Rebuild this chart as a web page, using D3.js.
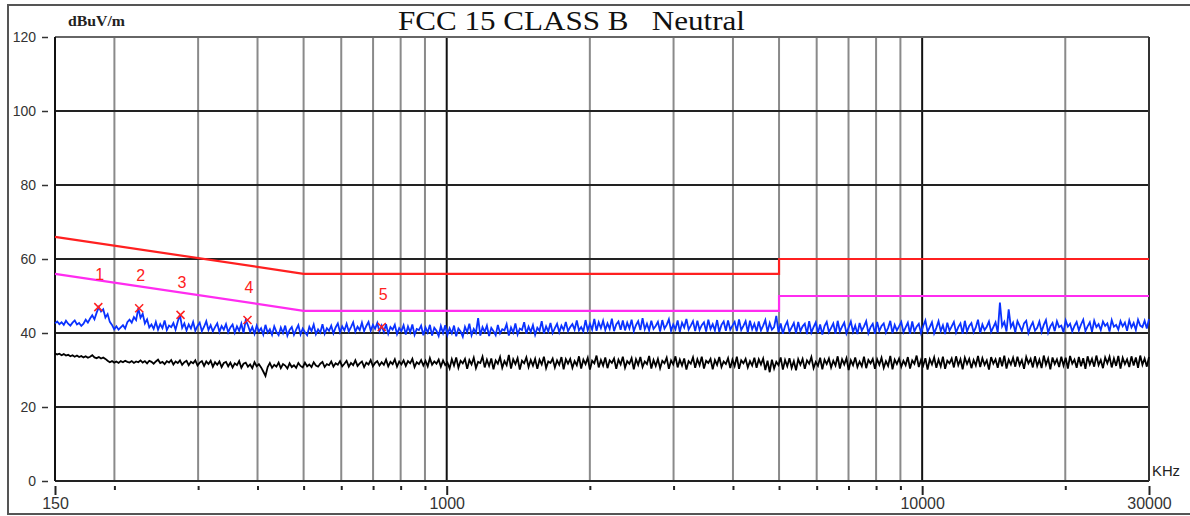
<!DOCTYPE html>
<html>
<head>
<meta charset="utf-8">
<script src="https://cdn.jsdelivr.net/npm/d3@7"></script>
<style>
  html, body { margin: 0; padding: 0; background: #fff; }
  svg { display: block; }
</style>
</head>
<body>
<svg id="chart" width="1190" height="516"></svg>
<script>
// ---------------- DATA ----------------
const chartTitle = "FCC 15 CLASS B   Neutral";
const yUnit = "dBuV/m";
const xUnit = "KHz";
const freqStart = 150;   // kHz, sweep start
const freqStop = 30000;  // kHz, sweep stop
const yTicks = [0, 20, 40, 60, 80, 100, 120];
const xGridFreqs = [200, 300, 400, 500, 600, 700, 800, 900, 1000, 2000, 3000, 4000, 5000, 6000, 7000, 8000, 9000, 10000, 20000];
const xMajorFreqs = [150, 1000, 10000, 30000];
const xTickLabels = ["150", "1000", "10000", "30000"];

// Limit lines (freq kHz, level dBuV)
const qpLimitFreq = [150, 500, 5000, 5000, 30000];
const qpLimitLevel = [66, 56, 56, 60, 60];
const avLimitFreq = [150, 500, 5000, 5000, 30000];
const avLimitLevel = [56, 46, 46, 50, 50];

// Peak-detector trace (blue), log-spaced sweep points
const peakTrace = [
42.6,43.1,42.4,42.9,42.2,43.3,42.5,42.0,42.8,43.4,
42.3,42.7,41.9,42.5,43.6,42.8,43.9,44.8,43.7,45.5,
47.0,45.8,46.4,44.2,45.1,43.0,42.2,41.0,41.8,40.9,
41.5,42.1,41.2,42.9,43.6,42.8,44.3,43.5,46.7,44.1,
45.2,42.6,43.7,41.5,42.3,41.1,43.0,40.9,42.4,41.3,
43.4,40.8,42.0,41.6,42.7,40.9,43.1,44.9,41.4,42.6,
40.7,42.3,41.2,43.0,40.6,41.9,42.8,40.5,41.7,43.2,
40.8,42.1,40.4,41.6,42.6,40.3,41.9,40.9,42.4,40.2,
41.5,42.3,40.1,41.8,40.6,42.5,40.0,43.5,42.1,40.3,
41.6,39.8,42.0,40.4,41.3,39.6,42.2,40.1,41.0,39.5,
41.8,40.3,39.4,41.5,40.0,42.0,39.3,40.8,41.6,39.5,
40.9,42.1,39.6,41.2,40.2,39.4,41.7,40.5,42.3,39.7,
41.0,40.1,42.4,39.8,41.3,40.6,42.0,39.9,41.5,42.6,
40.2,41.8,40.7,42.5,40.4,41.6,42.9,40.3,41.7,40.8,
42.8,40.5,41.9,43.0,40.6,42.2,41.1,42.7,40.4,42.0,
40.3,42.4,39.8,41.6,40.9,42.2,39.7,41.3,40.5,42.1,
39.6,41.8,40.2,42.3,39.5,41.1,40.8,42.0,39.4,41.5,
40.1,42.2,39.3,41.4,40.6,39.2,41.9,40.0,42.1,39.5,
41.3,39.9,42.0,39.1,41.2,40.4,39.0,41.7,40.2,42.5,
39.4,41.1,40.0,44.0,39.3,41.6,40.3,42.0,39.2,41.4,
40.5,39.4,42.2,39.9,41.0,40.7,42.4,39.3,41.5,40.1,
42.6,39.6,41.2,40.8,42.9,39.8,41.7,40.3,42.1,39.5,
41.4,40.6,43.2,39.9,41.8,40.4,42.7,40.0,41.3,42.5,
40.2,42.0,40.8,43.0,40.5,41.6,42.4,40.9,43.4,40.7,
41.6,40.4,43.5,40.7,42.5,40.9,43.8,40.6,42.9,41.3,
43.3,40.8,42.6,41.1,43.9,40.5,42.3,43.1,40.9,43.4,
40.7,42.8,41.2,43.6,40.5,42.1,43.2,40.8,44.0,41.0,
42.5,40.7,43.3,41.1,41.9,43.0,40.4,43.5,41.2,42.2,
43.7,40.6,42.3,41.0,43.4,40.3,42.8,41.5,43.8,40.9,
42.0,43.2,40.5,43.3,40.8,42.1,42.9,40.4,43.6,41.1,
42.4,40.7,43.5,40.3,42.2,43.1,40.6,43.4,40.9,42.0,
43.0,40.5,43.7,40.8,41.9,43.2,40.2,43.3,41.0,42.5,
40.4,43.1,40.7,42.0,43.5,40.3,42.7,40.9,41.6,44.6,
40.2,42.6,39.8,41.9,43.1,40.3,41.5,42.7,39.9,43.0,
40.5,41.8,42.5,39.7,43.2,40.1,41.6,42.9,40.0,42.3,
39.6,41.9,43.0,40.2,41.4,42.6,39.8,43.3,40.4,41.7,
42.8,39.9,41.5,43.1,40.3,42.0,39.7,42.7,40.6,41.8,
43.2,40.0,41.6,42.5,39.8,43.0,40.5,41.9,42.6,40.1,
41.4,43.3,39.9,42.2,40.7,41.8,43.0,40.2,41.5,42.8,
39.8,43.1,40.4,41.7,42.5,40.0,41.9,43.4,40.3,41.6,
42.9,39.9,41.4,43.2,40.5,42.1,39.7,42.8,40.6,41.8,
43.0,40.1,41.6,42.6,39.8,43.3,40.4,41.9,42.7,40.2,
41.5,43.6,40.0,42.3,40.8,41.7,43.1,40.3,41.6,42.9,
40.1,48.2,41.8,43.0,40.4,46.4,41.6,42.8,40.2,43.2,
41.9,40.5,42.6,43.3,40.0,41.7,42.9,40.6,41.4,43.1,
40.3,42.2,43.5,40.1,41.8,42.7,40.5,43.2,41.6,42.0,
40.2,43.4,41.7,42.5,40.4,41.9,43.0,40.7,42.3,43.6,
40.5,41.8,42.9,40.3,43.3,41.6,42.4,40.8,43.1,41.9,
42.6,40.4,43.5,41.7,42.2,40.9,43.2,41.8,42.8,40.6,
43.4,41.5,42.7,40.8,43.6,42.0,41.6,43.3,41.2,43.8
];

// Average-detector trace (black), same sweep points
const avgTrace = [
34.5,34.2,34.4,34.0,34.3,33.9,34.1,33.7,34.0,33.6,
33.9,33.5,33.8,33.4,33.7,33.3,33.6,34.0,33.4,33.2,
33.5,33.1,33.4,33.0,32.5,32.1,32.4,32.0,32.3,31.9,
32.4,32.1,32.5,32.2,32.0,32.4,31.9,32.3,32.1,32.6,
32.0,32.4,31.8,32.5,32.2,31.7,32.3,32.8,31.9,32.2,
31.6,32.4,32.0,32.7,31.5,32.3,31.9,32.6,31.4,32.1,
32.5,31.3,32.2,31.8,32.6,31.2,32.0,32.4,31.1,32.3,
31.6,32.5,30.9,32.1,31.4,32.3,30.8,31.9,32.2,31.0,
32.0,30.7,31.8,31.3,32.4,30.6,31.7,32.0,30.9,31.5,
30.5,32.1,31.0,31.6,30.7,29.6,28.4,30.8,31.9,30.6,
31.4,30.9,32.0,30.5,31.6,31.2,30.4,31.8,30.8,31.3,
30.6,31.9,31.1,30.7,32.0,31.0,31.5,30.8,32.1,31.2,
30.9,31.7,32.2,30.8,31.6,31.3,32.3,30.9,31.8,31.4,
32.4,31.0,31.7,32.5,30.9,31.9,31.3,32.6,31.1,31.8,
32.3,30.8,32.0,31.5,32.7,31.0,31.9,32.4,31.2,32.1,
31.4,32.8,31.0,32.2,31.6,32.9,30.9,32.3,31.5,32.6,
31.1,32.4,31.8,33.0,30.8,32.1,31.6,32.7,31.2,32.5,
31.0,33.2,31.4,32.3,31.7,32.8,30.9,32.6,31.3,32.0,
30.4,32.9,31.2,33.4,30.6,32.5,31.8,33.0,30.3,32.7,
31.5,33.3,30.5,32.2,31.9,33.6,30.7,32.8,31.1,33.1,
30.2,32.6,31.7,33.5,30.6,32.4,31.3,34.1,30.4,32.9,
31.6,33.2,30.1,32.5,31.8,33.4,30.8,32.7,31.2,33.0,
30.3,32.8,31.5,33.6,30.5,32.3,31.9,33.1,30.7,32.6,
31.4,33.5,30.2,32.9,31.7,33.0,30.6,32.4,31.3,33.7,
30.4,32.8,31.6,33.3,30.1,32.5,31.8,33.9,30.7,32.7,
31.2,33.4,30.5,32.6,31.9,33.1,30.3,32.8,31.5,33.6,
30.6,32.4,31.7,33.2,30.2,32.9,31.4,33.5,30.8,32.3,
31.6,33.8,30.4,32.7,31.1,33.0,30.5,32.5,31.8,33.3,
30.3,32.6,31.5,33.7,30.7,32.8,31.2,33.1,30.1,32.4,
31.7,33.4,30.6,32.9,31.3,33.6,30.4,32.5,31.9,33.0,
30.2,32.7,31.4,33.5,30.8,32.3,31.6,33.2,30.5,32.8,
31.1,33.6,30.3,32.6,31.8,33.0,30.7,32.4,31.2,33.3,
30.6,32.9,31.5,33.1,30.0,32.5,29.4,32.8,30.4,32.2,
31.3,33.4,30.1,32.7,31.0,33.2,30.6,32.4,29.9,32.9,
31.4,33.0,30.3,32.6,31.7,33.5,30.5,32.2,31.1,33.3,
30.2,32.8,31.6,33.1,30.7,32.5,31.2,33.7,30.4,32.9,
31.5,33.2,30.0,32.6,31.3,33.4,30.8,32.3,31.0,33.6,
30.5,32.7,31.8,33.0,30.3,32.9,31.4,33.3,30.6,32.4,
31.1,33.8,30.2,32.8,31.6,33.1,30.9,32.5,31.3,33.5,
30.4,32.6,31.7,33.9,30.8,32.7,31.2,33.2,30.1,32.9,
31.5,33.4,30.6,32.8,31.0,33.6,30.3,32.5,31.8,33.1,
30.7,33.7,31.3,32.9,30.2,33.3,31.6,33.0,30.5,32.7,
31.2,33.8,30.8,33.2,31.4,32.6,30.1,33.5,31.7,32.9,
30.6,33.4,31.0,33.9,30.4,32.8,31.5,33.3,30.9,33.6,
31.3,32.7,30.3,33.5,31.8,33.0,30.7,33.7,31.1,32.8,
30.5,33.9,31.4,33.1,30.2,33.4,31.6,32.9,30.8,33.6,
31.2,33.3,30.4,33.8,31.7,32.8,30.6,33.5,31.0,33.2,
30.3,33.7,31.5,33.0,30.9,33.9,31.3,32.7,30.5,33.4,
31.8,33.6,30.7,33.1,31.1,33.8,30.4,33.3,31.6,32.9,
30.8,33.7,31.2,33.4,30.6,33.9,31.4,33.1,30.9,33.5
];

// Markers (freq kHz, level dBuV)
const markerLabels = ["1", "2", "3", "4", "5"];
const markerFreq = [185, 225.5, 275.5, 381, 730];
const markerLevel = [47.0, 46.7, 44.9, 43.5, 41.6];

// ---------------- DRAW ----------------
const svg = d3.select("#chart");
const plot = { left: 55, right: 1149, top: 37, bottom: 481 };

const x = d3.scaleLog().domain([freqStart, freqStop]).range([plot.left, plot.right]);
const y = d3.scaleLinear().domain([0, 120]).range([plot.bottom, plot.top]);

// outer frame
svg.append("rect")
  .attr("x", 8).attr("y", 5).attr("width", 1200).attr("height", 509)
  .attr("fill", "none").attr("stroke", "#555").attr("stroke-width", 2);

// title
svg.append("text")
  .attr("x", 398).attr("y", 30)
  .attr("font-family", "'Liberation Serif', 'Times New Roman', serif")
  .attr("font-size", 27)
  .attr("textLength", 347).attr("lengthAdjust", "spacingAndGlyphs")
  .attr("fill", "#111")
  .style("white-space", "pre")
  .text(chartTitle);

// unit labels
svg.append("text")
  .attr("x", 68).attr("y", 26)
  .attr("font-family", "'Liberation Serif', 'Times New Roman', serif")
  .attr("font-size", 14).attr("font-weight", "bold")
  .attr("textLength", 57).attr("lengthAdjust", "spacingAndGlyphs")
  .attr("fill", "#222")
  .text(yUnit);

svg.append("text")
  .attr("x", 1152).attr("y", 476)
  .attr("font-family", "'Liberation Sans', Arial, sans-serif")
  .attr("font-size", 14)
  .attr("textLength", 28).attr("lengthAdjust", "spacingAndGlyphs")
  .attr("fill", "#222")
  .text(xUnit);

// grid
const grid = svg.append("g");
grid.selectAll("line.v").data(xGridFreqs).join("line")
  .attr("class", "v")
  .attr("x1", d => x(d)).attr("x2", d => x(d))
  .attr("y1", plot.top).attr("y2", plot.bottom)
  .attr("stroke", d => xMajorFreqs.includes(d) ? "#111" : "#8a8a8a")
  .attr("stroke-width", 2);

grid.selectAll("line.h").data(yTicks.filter(d => d > 0 && d < 120)).join("line")
  .attr("class", "h")
  .attr("x1", plot.left).attr("x2", plot.right)
  .attr("y1", d => y(d)).attr("y2", d => y(d))
  .attr("stroke", "#222")
  .attr("stroke-width", 1.8);

// plot border
svg.append("line").attr("x1", plot.left).attr("x2", plot.right)
  .attr("y1", plot.top).attr("y2", plot.top).attr("stroke", "#666").attr("stroke-width", 2);
svg.append("line").attr("x1", plot.left).attr("x2", plot.right)
  .attr("y1", plot.bottom).attr("y2", plot.bottom).attr("stroke", "#222").attr("stroke-width", 2);
svg.append("line").attr("x1", plot.left).attr("x2", plot.left)
  .attr("y1", plot.top).attr("y2", plot.bottom).attr("stroke", "#111").attr("stroke-width", 2);
svg.append("line").attr("x1", plot.right).attr("x2", plot.right)
  .attr("y1", plot.top).attr("y2", plot.bottom).attr("stroke", "#333").attr("stroke-width", 2);

// y axis
const yAxis = d3.axisLeft(y).tickValues(yTicks).tickSize(6).tickPadding(6).tickFormat(d3.format("d"));
const yg = svg.append("g").attr("transform", "translate(48,0)").call(yAxis);
yg.select(".domain").remove();
yg.selectAll("line").attr("stroke", "#333").attr("stroke-width", 1.5);
yg.selectAll("text")
  .attr("font-family", "'Liberation Sans', Arial, sans-serif")
  .attr("font-size", 14).attr("fill", "#333");

// x axis (unique tick positions)
const xTickVals = Array.from(new Set(xMajorFreqs.concat(xGridFreqs))).sort((a, b) => a - b);
const xAxis = d3.axisBottom(x)
  .tickValues(xTickVals)
  .tickSize(4).tickPadding(8)
  .tickFormat(d => { const k = xMajorFreqs.indexOf(d); return k >= 0 ? xTickLabels[k] : ""; });
const xg = svg.append("g").attr("transform", `translate(0,${plot.bottom + 5})`).call(xAxis);
xg.select(".domain").remove();
xg.selectAll(".tick line")
  .attr("stroke", "#222").attr("stroke-width", 2)
  .attr("y2", d => xMajorFreqs.includes(d) ? 9 : 4);
xg.selectAll(".tick text")
  .attr("y", 12)
  .attr("font-family", "'Liberation Sans', Arial, sans-serif")
  .attr("font-size", 16).attr("font-weight", "normal").attr("fill", "#333");

// sweep frequencies (log-spaced)
const n = peakTrace.length;
const sweep = d3.range(n).map(i => freqStart * Math.pow(freqStop / freqStart, i / (n - 1)));

const line = d3.line().x(d => x(d[0])).y(d => y(d[1]));

svg.append("path")
  .datum(sweep.map((f, i) => [f, avgTrace[i]]))
  .attr("d", line).attr("fill", "none")
  .attr("stroke", "#000").attr("stroke-width", 1.8);

svg.append("path")
  .datum(sweep.map((f, i) => [f, peakTrace[i]]))
  .attr("d", line).attr("fill", "none")
  .attr("stroke", "#0a32ff").attr("stroke-width", 1.8);

// limits
svg.append("path")
  .datum(avLimitFreq.map((f, i) => [f, avLimitLevel[i]]))
  .attr("d", line).attr("fill", "none")
  .attr("stroke", "#ff2cf0").attr("stroke-width", 2.2);

svg.append("path")
  .datum(qpLimitFreq.map((f, i) => [f, qpLimitLevel[i]]))
  .attr("d", line).attr("fill", "none")
  .attr("stroke", "#ff2020").attr("stroke-width", 2.2);

// markers
const mk = svg.append("g");
markerFreq.forEach((f, i) => {
  const cx = x(f), cy = y(markerLevel[i]);
  const s = 4;
  mk.append("path")
    .attr("d", `M${cx - s},${cy - s}L${cx + s},${cy + s}M${cx - s},${cy + s}L${cx + s},${cy - s}`)
    .attr("stroke", "#ff2020").attr("stroke-width", 1.5).attr("fill", "none");
  mk.append("text")
    .attr("x", cx + 1.5).attr("y", cy - 27)
    .attr("text-anchor", "middle")
    .attr("font-family", "'Liberation Sans', Arial, sans-serif")
    .attr("font-size", 16).attr("fill", "#ff2020")
    .text(markerLabels[i]);
});
</script>
</body>
</html>
